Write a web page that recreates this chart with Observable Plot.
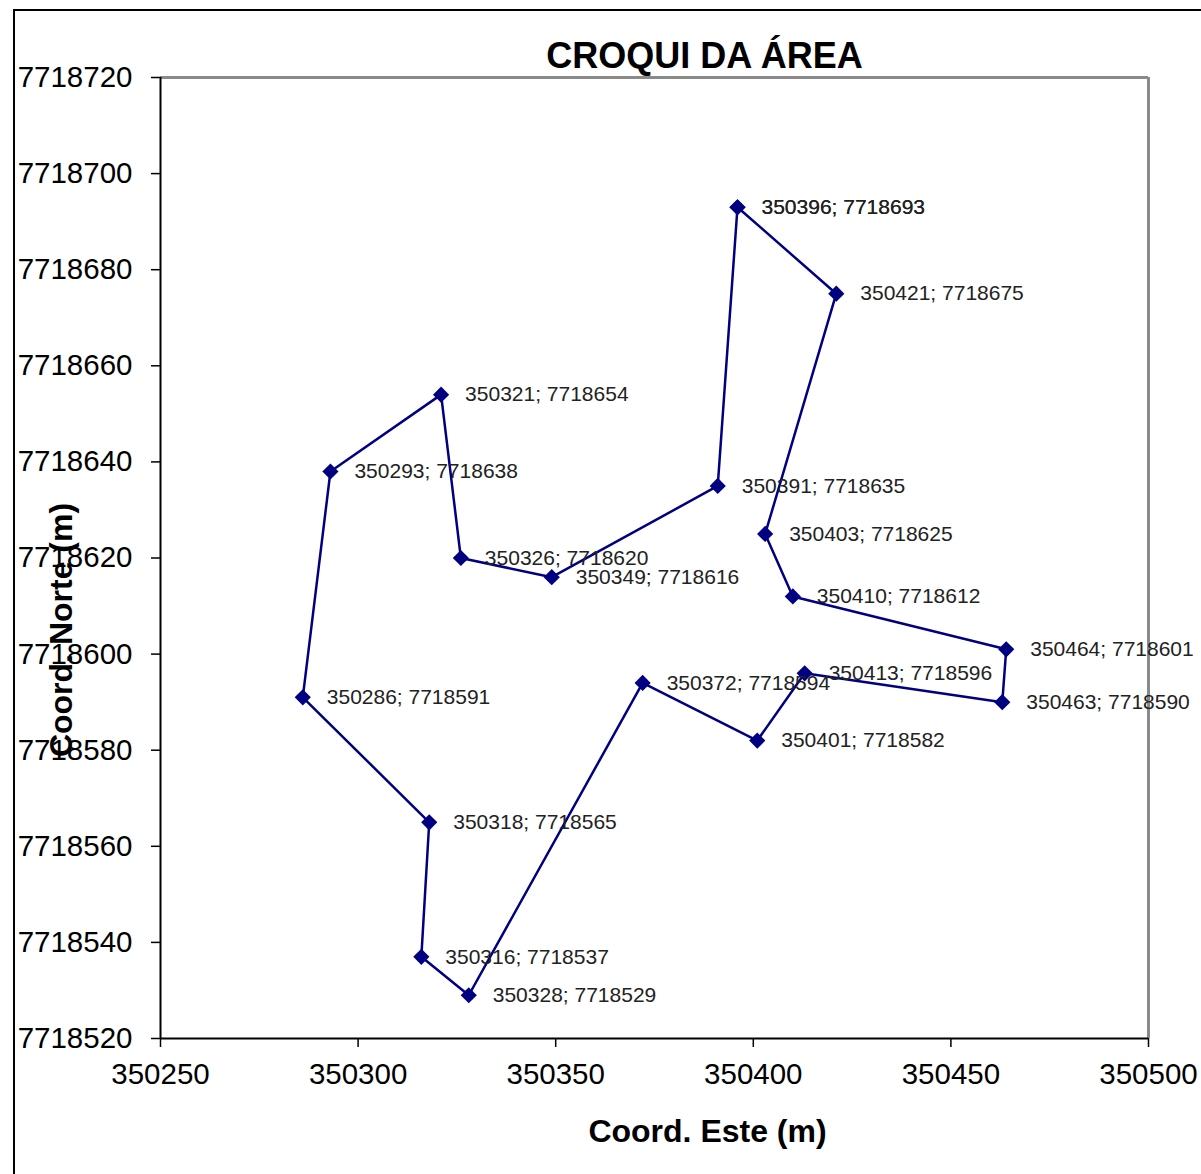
<!DOCTYPE html>
<html>
<head>
<meta charset="utf-8">
<script src="https://cdn.jsdelivr.net/npm/d3@7"></script>
<script src="https://cdn.jsdelivr.net/npm/@observablehq/plot@0.6"></script>
<style>
  html, body { margin: 0; padding: 0; background: #fff; overflow: hidden; }
  #chart svg { display: block; }
</style>
</head>
<body>
<div id="chart"></div>
<script>
// Vertices of the polygon, in drawing order (closed back to the first one)
const este  = [350396, 350421, 350403, 350410, 350464, 350463, 350413, 350401, 350372, 350328, 350316, 350318, 350286, 350293, 350321, 350326, 350349, 350391, 350396];
const norte = [7718693, 7718675, 7718625, 7718612, 7718601, 7718590, 7718596, 7718582, 7718594, 7718529, 7718537, 7718565, 7718591, 7718638, 7718654, 7718620, 7718616, 7718635, 7718693];
const xTicks = [350250, 350300, 350350, 350400, 350450, 350500];
const yTicks = [7718520, 7718540, 7718560, 7718580, 7718600, 7718620, 7718640, 7718660, 7718680, 7718700, 7718720];
const title = "CROQUI DA ÁREA";
const xTitle = "Coord. Este (m)";
const yTitle = "Coord. Norte (m)";

const pts = este.map((x, i) => ({x, y: norte[i], label: `${x}; ${norte[i]}`}));
const navy = "#000080";
const font = "'Liberation Sans', Arial, sans-serif";

const chart = Plot.plot({
  width: 1201,
  height: 1174,
  marginLeft: 160,
  marginRight: 53,
  marginTop: 77,
  marginBottom: 136,
  style: {fontFamily: font, background: "#fff", color: "#000"},
  x: {domain: [350250, 350500], label: null},
  y: {domain: [7718520, 7718720], label: null},
  marks: [
    Plot.ruleY([yTicks[yTicks.length - 1]], {stroke: "#8a8a8a", strokeWidth: 3}),
    Plot.ruleX([xTicks[xTicks.length - 1]], {stroke: "#8a8a8a", strokeWidth: 3}),
    Plot.axisX({ticks: xTicks, tickFormat: d => String(d), tickSize: 9, tickPadding: 16, fontSize: 29.5, stroke: "#000", strokeWidth: 1.5, label: null}),
    Plot.axisY({ticks: yTicks, tickFormat: d => String(d), tickSize: 9, tickPadding: 19, fontSize: 29.5, stroke: "#000", strokeWidth: 1.5, label: null}),
    Plot.ruleX([xTicks[0]], {stroke: "#000", strokeWidth: 2}),
    Plot.ruleY([yTicks[0]], {stroke: "#000", strokeWidth: 2}),
    Plot.line(pts, {x: "x", y: "y", stroke: navy, strokeWidth: 2.5, curve: "linear"}),
    Plot.dot(pts, {x: "x", y: "y", symbol: "diamond2", r: 7.3, fill: navy, stroke: "none"}),
    Plot.text(pts, {x: "x", y: "y", text: "label", dx: 24, textAnchor: "start", lineAnchor: "middle", fontSize: 21, fill: "#222"}),
    Plot.text([title], {frameAnchor: "top", text: d => d, textAnchor: "middle", lineAnchor: "bottom", dy: -10, dx: 50, fontSize: 36, fontWeight: "bold", fill: "#000"}),
    Plot.text([xTitle], {frameAnchor: "bottom", text: d => d, textAnchor: "middle", lineAnchor: "bottom", dy: 103, dx: 53, fontSize: 32, fontWeight: "bold", fill: "#000"}),
    Plot.text([yTitle], {frameAnchor: "left", text: d => d, rotate: -90, textAnchor: "middle", lineAnchor: "bottom", dx: -89, dy: 72, fontSize: 32, fontWeight: "bold", fill: "#000"})
  ]
});

// Outer chart border (left and top edges visible)
d3.select(chart).append("path")
  .attr("d", "M14,1174V10H1201")
  .attr("fill", "none")
  .attr("stroke", "#000")
  .attr("stroke-width", 2);

document.getElementById("chart").appendChild(chart);
</script>
</body>
</html>
